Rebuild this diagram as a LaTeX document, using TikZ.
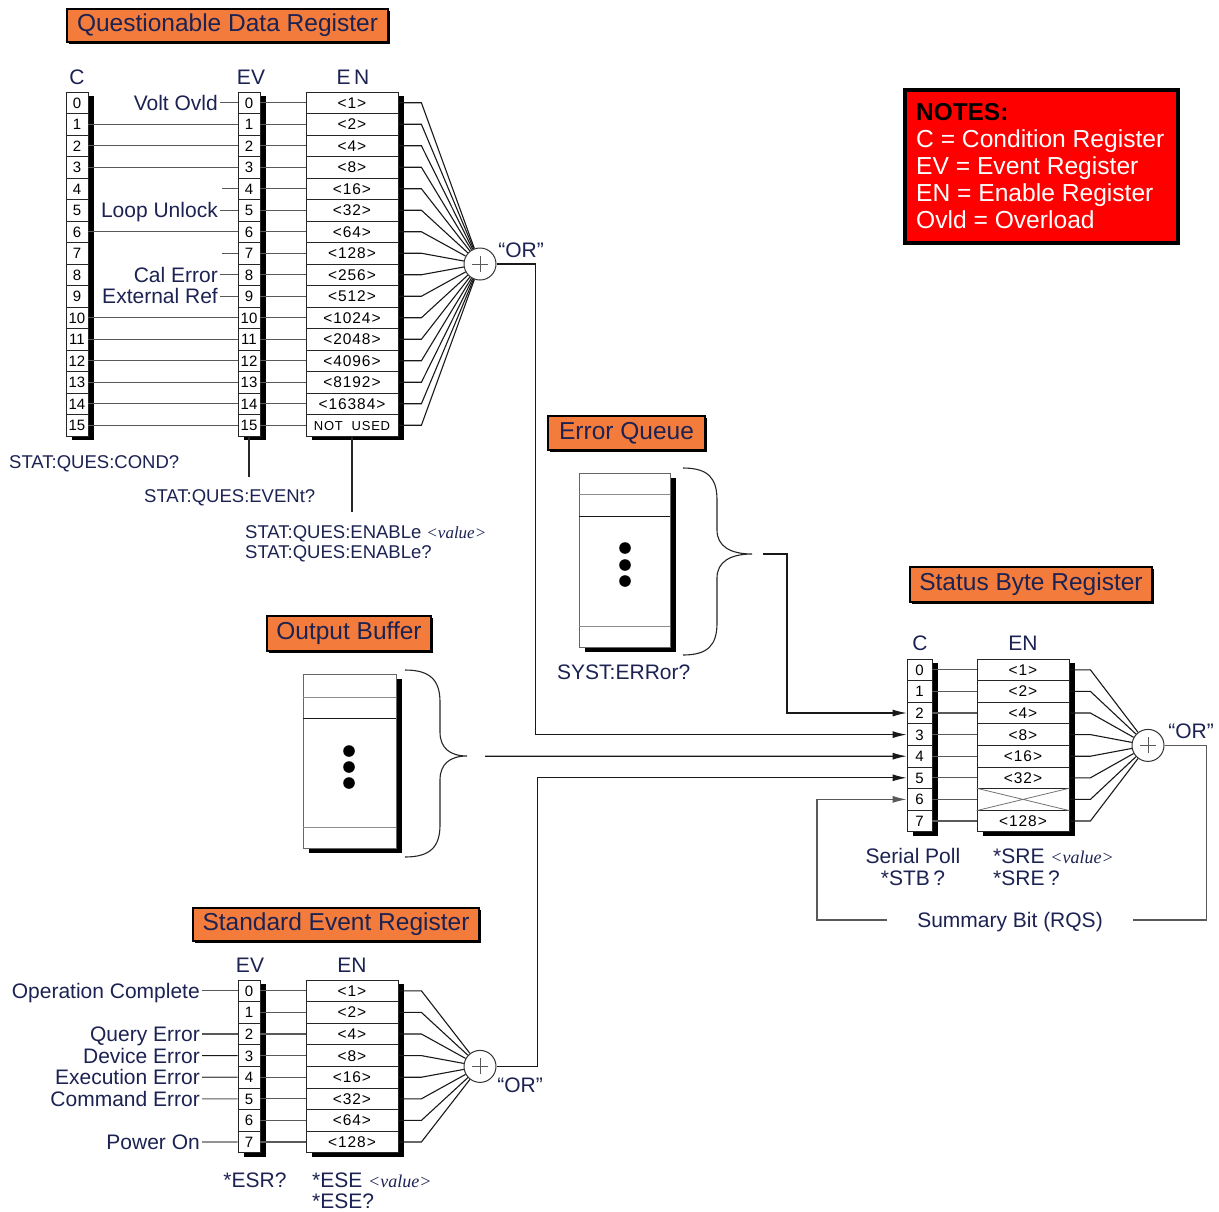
\documentclass[tikz,border=0pt]{standalone}
\usepackage{fontspec}
\setmainfont{Liberation Sans}
\newfontfamily\serifit{Liberation Serif}
\newfontfamily\spacedsans[LetterSpace=6]{Liberation Sans}
\usetikzlibrary{arrows.meta,shadows,calc}
\definecolor{ttl}{RGB}{243,124,60}
\definecolor{txt}{RGB}{28,34,82}
\newcommand{\fsz}[1]{\fontsize{#1}{#1}\selectfont}
\begin{document}
\begin{tikzpicture}[x=1pt,y=-1pt,
  wire/.style={draw=black!65, line width=1.1pt},
  dwire/.style={draw=black!90, line width=1.1pt},
  arr/.style={-{Latex[length=14pt,width=7pt]}},
  ccell/.style={draw=black!85, line width=0.8pt, fill=white, inner sep=0pt, minimum width=22pt, minimum height=21.5pt, font=\fsz{15}, text height=10.8pt, text depth=0pt},
  ecell/.style={draw=black!85, line width=0.8pt, fill=white, inner sep=0pt, minimum width=92pt, minimum height=21.5pt, font=\spacedsans\fsz{15.5}, text height=11pt, text depth=0pt},
  lbl/.style={font=\fsz{21}, text=txt, inner sep=2pt, text height=15pt, text depth=0pt},
  slbl/.style={font=\fsz{18.5}, text=txt, inner sep=1pt, text height=13pt, text depth=0pt},
  hdr/.style={font=\fsz{21}, text=txt, inner sep=0pt},
  titlebox/.style={draw=black, line width=2.5pt, fill=ttl, inner sep=0pt, font=\fsz{24.5}, text=txt,
    drop shadow={shadow xshift=2pt, shadow yshift=-2pt, fill=black, opacity=1}},
  orc/.style={circle, draw=black!80, line width=1pt, fill=white, minimum size=32pt, inner sep=0pt,
    path picture={\draw[black!65, line width=1pt] ($(path picture bounding box.center)+(-8,0)$) -- ++(16,0) ($(path picture bounding box.center)+(0,-8)$) -- ++(0,16);}},
  shd/.style={fill=black},
  note/.style={font=\fsz{24.6}, text=white, inner sep=0pt, anchor=base west}
]
\useasboundingbox (0,0) rectangle (1219,1211);
\fill[white] (0,0) rectangle (1219,1211);

% ---------- titles ----------
\node[titlebox, minimum width=321pt, minimum height=33pt] (tqdr) at (227.5,25.5) {Questionable Data Register};
\node[titlebox, minimum width=157pt, minimum height=34pt] (teq) at (626.5,433) {Error Queue};
\node[titlebox, minimum width=164pt, minimum height=35pt] (tob) at (349,633.5) {Output Buffer};
\node[titlebox, minimum width=242pt, minimum height=35pt] (tsb) at (1031,584.5) {Status Byte Register};
\node[titlebox, minimum width=286pt, minimum height=33pt] (tser) at (336,924.5) {Standard Event Register};

% ---------- notes ----------
\node[draw=black, line width=3.5pt, fill=red, minimum width=273pt, minimum height=153pt, inner sep=0pt] (notes) at (1041.5,166.5) {};
\node[note, text=black, font=\fsz{24.4}\bfseries] (n0) at (916,120) {NOTES:};
\node[note] (n1) at (916,147) {C = Condition Register};
\node[note] (n2) at (916,174) {EV = Event Register};
\node[note] (n3) at (916,201) {EN = Enable Register};
\node[note] (n4) at (916,228) {Ovld = Overload};

% ---------- shadows of register columns ----------
\fill[shd] (72,96) rectangle (94,440);
\fill[shd] (244,96) rectangle (266,440);
\fill[shd] (312,96) rectangle (404,440);
\fill[shd] (244,984) rectangle (266,1157);
\fill[shd] (312,984) rectangle (404,1157);
\fill[shd] (913,663) rectangle (938,836);
\fill[shd] (983,663) rectangle (1075,836);

% ---------- OR gates ----------
\node[orc] (qor) at (480,264) {};
\node[orc] (sor) at (480,1066.4) {};
\node[orc] (bor) at (1148,745.4) {};
\node[lbl] (qorl) at (521,250) {``OR''};
\node[lbl] (sorl) at (520,1085) {``OR''};
\node[lbl] (borl) at (1191,731) {``OR''};

% ---------- Questionable Data Register ----------
\node[hdr] (qhc) at (77,77) {C};
\node[hdr] (qhv) at (251,77) {EV};
\node[hdr] (qhe) at (353,77) {E\,N};
\foreach \i/\v in {0/{<1>},1/{<2>},2/{<4>},3/{<8>},4/{<16>},5/{<32>},6/{<64>},7/{<128>},8/{<256>},9/{<512>},10/{<1024>},11/{<2048>},12/{<4096>},13/{<8192>},14/{<16384>},15/{\fsz{13}NOT\ \ USED}} {
  \node[ccell] (qc\i) at (77,{102.75+21.5*\i}) {\i};
  \node[ccell] (qv\i) at (249,{102.75+21.5*\i}) {\i};
  \node[ecell] (qe\i) at (352,{102.75+21.5*\i}) {\v};
}
\foreach \i in {1,2,3,6,10,11,12,13,14,15} \draw[wire] (qc\i.east) -- (qv\i.west);
\foreach \i in {0,...,15} {
  \draw[wire] (qv\i.east) -- (qe\i.west);
  \draw[dwire] (qe\i.east) -- ++(23,0) -- (qor);
}
\node[lbl, anchor=east] (lvolt) at (220,102.75) {Volt Ovld};
\node[lbl, anchor=east] (lloop) at (220,210.25) {Loop Unlock};
\node[lbl, anchor=east] (lcal) at (220,274.75) {Cal Error};
\node[lbl, anchor=east] (lext) at (220,296.25) {External Ref};
\draw[wire] (lvolt.east) -- (qv0.west);
\draw[wire] (lloop.east) -- (qv5.west);
\draw[wire] (lcal.east) -- (qv8.west);
\draw[wire] (lext.east) -- (qv9.west);
\coordinate (q4s) at (222,188.75);
\coordinate (q7s) at (222,253.25);
\draw[wire] (q4s) -- (qv4.west);
\draw[wire] (q7s) -- (qv7.west);

\node[slbl, anchor=west] (qcondl) at (8,462) {STAT:QUES:COND?};
\node[slbl, anchor=west] (qevl) at (143,496) {STAT:QUES:EVENt?};
\node[slbl, anchor=west] (qenl) at (244,532) {STAT:QUES:ENABLe {\serifit\itshape\fsz{17}<value>}};
\node[slbl, anchor=west] (qenq) at (244,552) {STAT:QUES:ENABLe?};
\draw[wire, black!85] (qv15.south) -- ++(0,41);
\draw[wire, black!85] (qe15.south) -- ++(0,76);

% ---------- Error Queue ----------
\fill[shd] (585,478) rectangle (676,652);
\draw[black!60, line width=0.9pt, fill=white] (579,473) rectangle (670,647);
\draw[black!45, line width=0.9pt] (579,494) -- (670,494);
\draw[black!90, line width=0.9pt] (579,516) -- (670,516);
\draw[black!45, line width=0.9pt] (579,626) -- (670,626);
\fill (625,548) circle (5.8) (625,565) circle (5.8) (625,581) circle (5.8);
\draw[black!85, line width=1.1pt] (683,468) .. controls (708,468) and (717,478) .. (717,500) -- (717,530) .. controls (717,546) and (730,554) .. (752,554) .. controls (730,554) and (717,562) .. (717,578) -- (717,623) .. controls (717,645) and (708,655) .. (683,655);
\coordinate (eqtip) at (763,554);
\node[lbl, anchor=west] (eql) at (555,672) {SYST:ERRor?};

% ---------- Output Buffer ----------
\fill[shd] (309,679) rectangle (402,853);
\draw[black!60, line width=0.9pt, fill=white] (303,674) rectangle (396,848);
\draw[black!45, line width=0.9pt] (303,697) -- (396,697);
\draw[black!90, line width=0.9pt] (303,718) -- (396,718);
\draw[black!45, line width=0.9pt] (303,827) -- (396,827);
\fill (349,751) circle (5.8) (349,767) circle (5.8) (349,783) circle (5.8);
\draw[black!85, line width=1.1pt] (405,670) .. controls (430,670) and (440,680) .. (440,702) -- (440,732) .. controls (440,748) and (450,756) .. (467,756) .. controls (450,756) and (440,764) .. (440,780) -- (440,825) .. controls (440,847) and (430,857) .. (405,857);
\coordinate (obtip) at (485,756.2);

% ---------- Status Byte Register ----------
\node[hdr] (bhc) at (920,643) {C};
\node[hdr] (bhe) at (1023,643) {EN};
\foreach \i/\v in {0/{<1>},1/{<2>},2/{<4>},3/{<8>},4/{<16>},5/{<32>},6/{},7/{<128>}} {
  \node[ccell, minimum width=25pt, minimum height=21.6pt] (bc\i) at (919.5,{669.8+21.6*\i}) {\i};
  \node[ecell, minimum height=21.6pt] (be\i) at (1023,{669.8+21.6*\i}) {\v};
  \draw[wire] (bc\i.east) -- (be\i.west);
  \draw[dwire] (be\i.east) -- ++(21,0) -- (bor);
}
\draw[black!55, line width=0.8pt] (be6.north west) -- (be6.south east) (be6.south west) -- (be6.north east);
\node[lbl] (bsp) at (913,856) {Serial Poll};
\node[lbl] (bstb) at (913,878) {*STB\,?};
\node[lbl, anchor=west] (bsre) at (991,856) {*SRE {\serifit\itshape\fsz{18}<value>}};
\node[lbl, anchor=west] (bsreq) at (991,878) {*SRE\,?};
\node[lbl] (rqs) at (1010,920) {Summary Bit (RQS)};
\coordinate (rqsR) at (1133,920);
\coordinate (rqsL) at (887,920);

% ---------- Standard Event Register ----------
\node[hdr] (shv) at (250,965) {EV};
\node[hdr] (she) at (352,965) {EN};
\foreach \i/\v in {0/{<1>},1/{<2>},2/{<4>},3/{<8>},4/{<16>},5/{<32>},6/{<64>},7/{<128>}} {
  \node[ccell, minimum height=21.6pt] (sv\i) at (249,{990.8+21.6*\i}) {\i};
  \node[ecell, minimum height=21.6pt] (se\i) at (352,{990.8+21.6*\i}) {\v};
  \draw[wire] (sv\i.east) -- (se\i.west);
  \draw[dwire] (se\i.east) -- ++(23,0) -- (sor);
}
\node[lbl, anchor=east] (lop) at (202,990.8) {Operation Complete};
\node[lbl, anchor=east] (lqe) at (202,1034) {Query Error};
\node[lbl, anchor=east] (lde) at (202,1055.6) {Device Error};
\node[lbl, anchor=east] (lee) at (202,1077.2) {Execution Error};
\node[lbl, anchor=east] (lce) at (202,1098.8) {Command Error};
\node[lbl, anchor=east] (lpo) at (202,1142) {Power On};
\draw[wire] (lop.east) -- (sv0.west);
\draw[wire] (lqe.east) -- (sv2.west);
\draw[dwire] (lde.east) -- (sv3.west);
\draw[wire] (lee.east) -- (sv4.west);
\draw[wire] (lce.east) -- (sv5.west);
\draw[wire] (lpo.east) -- (sv7.west);
\node[lbl] (sesr) at (255,1180) {*ESR?};
\node[lbl, anchor=west] (sese) at (310,1180) {*ESE {\serifit\itshape\fsz{18}<value>}};
\node[lbl, anchor=west] (seseq) at (310,1201) {*ESE?};

% ---------- routing into Status Byte ----------
\draw[dwire, arr] (eqtip) -- ++(24,0) |- (bc2.west);
\draw[dwire, arr] (qor.east) -- ++(39,0) |- (bc3.west);
\draw[dwire, arr] (obtip) -- (bc4.west);
\draw[dwire, arr] (sor.east) -- ++(41,0) |- (bc5.west);
\draw[wire] (bor.east) -- ++(42,0) |- (rqsR);
\draw[wire, arr] (rqsL) -- ++(-70,0) |- (bc6.west);
\end{tikzpicture}
\end{document}
